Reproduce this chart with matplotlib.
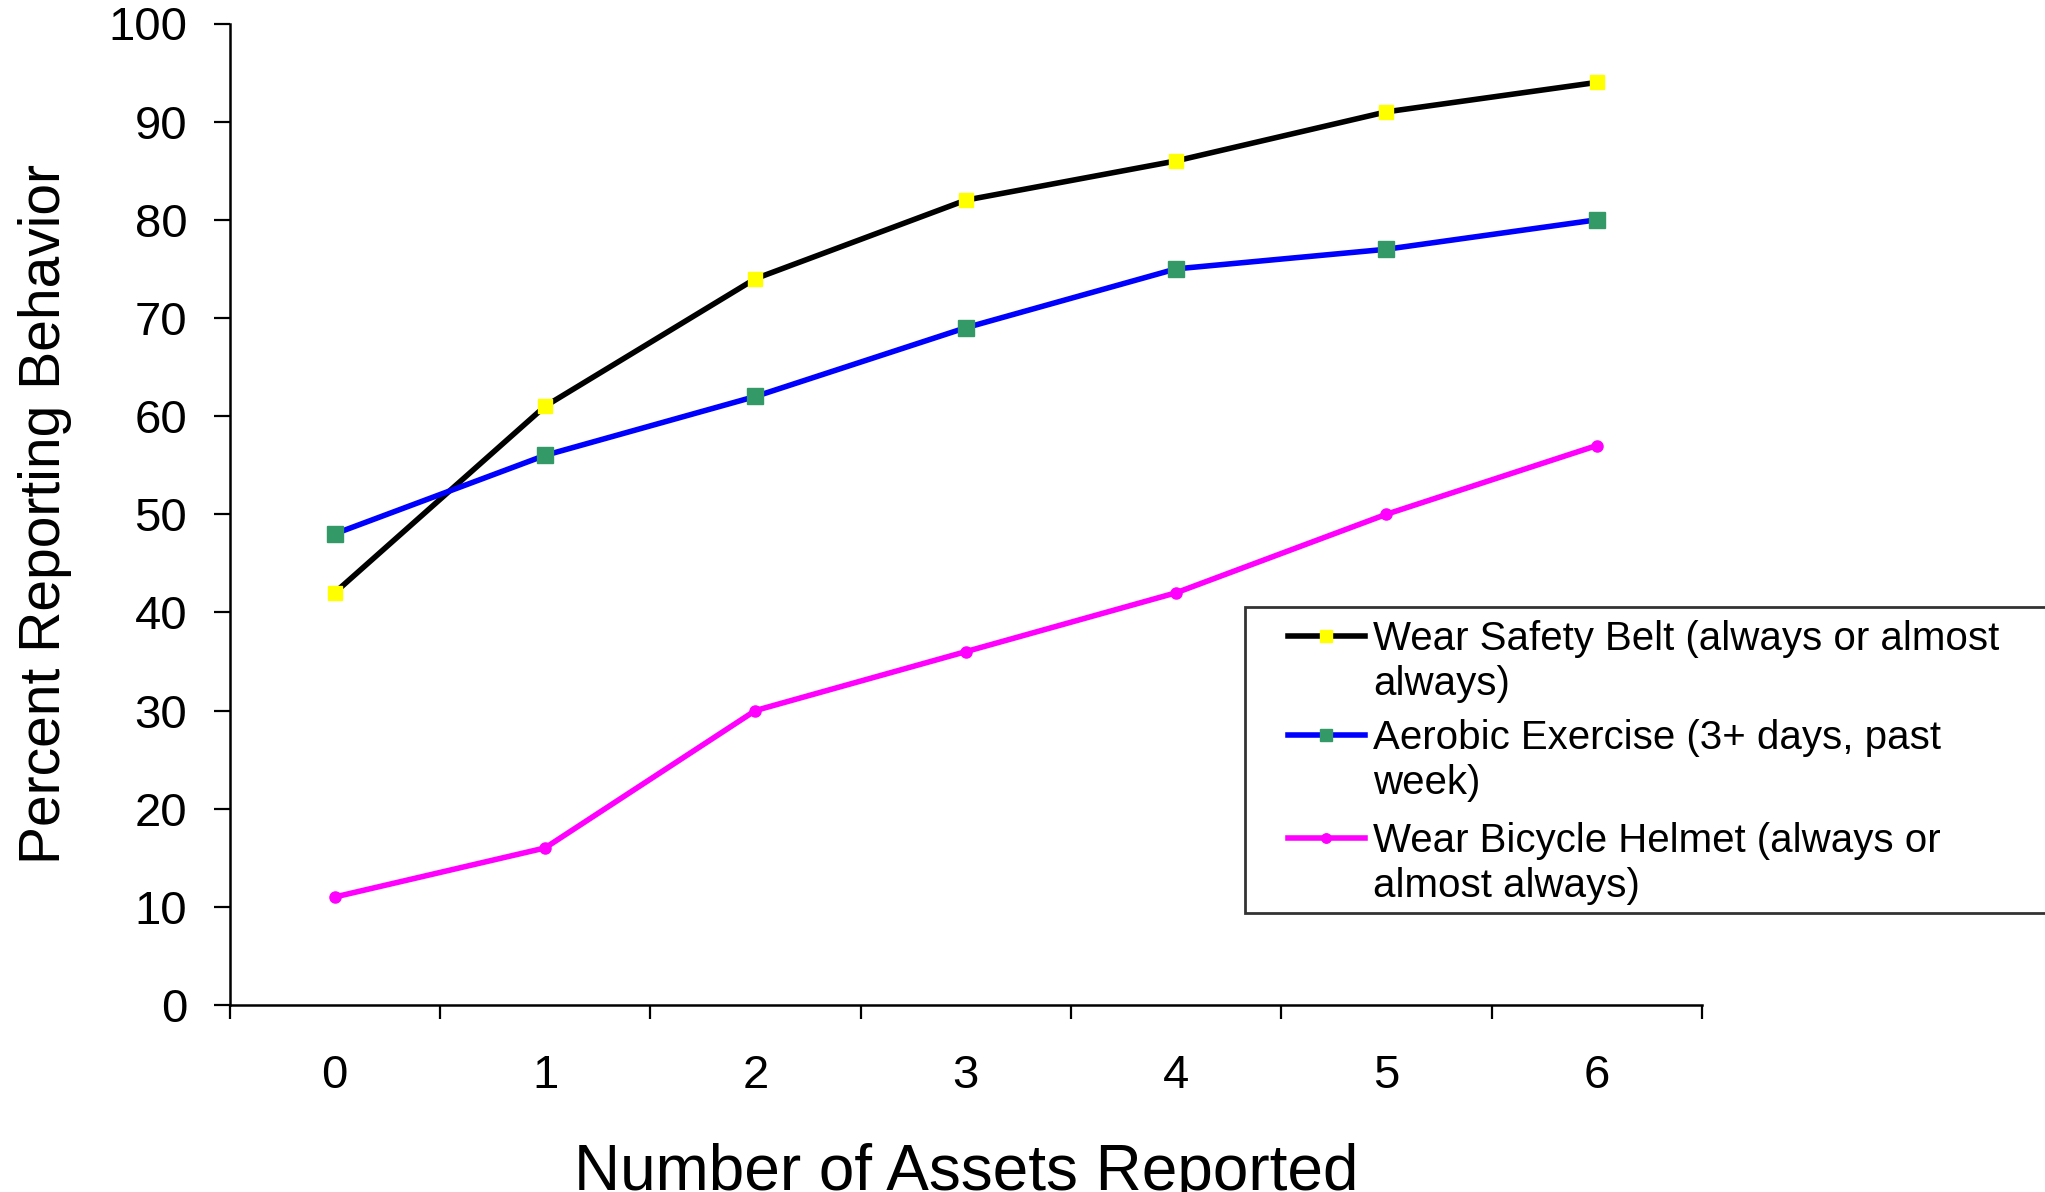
import matplotlib
matplotlib.use("Agg")
import matplotlib.pyplot as plt
from matplotlib.lines import Line2D
from matplotlib.patches import Rectangle

plt.rcParams["font.family"] = ["Liberation Sans", "DejaVu Sans"]

# data
assets = [0, 1, 2, 3, 4, 5, 6]
safety_belt = [42, 61, 74, 82, 86, 91, 94]
aerobic = [48, 56, 62, 69, 75, 77, 80]
bike_helmet = [11, 16, 30, 36, 42, 50, 57]

labels = [
    "Wear Safety Belt (always or almost\nalways)",
    "Aerobic Exercise (3+ days, past\nweek)",
    "Wear Bicycle Helmet (always or\nalmost always)",
]

W, H = 2045, 1192
fig = plt.figure(figsize=(W / 100, H / 100), dpi=100)

# axes box in pixels: left 229.5, right 1702, top 23.5, bottom 1005
ax = fig.add_axes([229.5 / W, (H - 1005) / H, (1702 - 229.5) / W, (1005 - 23.5) / H])

styles = [
    dict(color="#000000", marker="s", mfc="#FFFF00", mec="#FFFF00", ms=10),
    dict(color="#0000FF", marker="s", mfc="#339966", mec="#339966", ms=11),
    dict(color="#FF00FF", marker="o", mfc="#FF00FF", mec="#FF00FF", ms=8),
]
series = [safety_belt, aerobic, bike_helmet]

for vals, st in zip(series, styles):
    ax.plot(assets, vals, lw=4, clip_on=False, **st)

ax.set_xlim(-0.5, 6.5)
ax.set_ylim(0, 100)

for side in ("top", "right"):
    ax.spines[side].set_visible(False)
for side in ("left", "bottom"):
    ax.spines[side].set_linewidth(1.8)

ax.set_yticks(range(0, 101, 10))
ax.tick_params(axis="y", direction="out", length=11.5, width=1.6,
               labelsize=34, pad=19)

# category axis: tick marks between categories, labels at the centres
ax.set_xticks([a - 0.5 for a in assets] + [assets[-1] + 0.5])
ax.set_xticklabels([])
ax.set_xticks(assets, minor=True)
ax.set_xticklabels([str(a) for a in assets], minor=True)
ax.tick_params(axis="x", which="major", direction="out", length=10, width=1.6)
ax.tick_params(axis="x", which="minor", length=0, labelsize=34, pad=35)

ax.set_ylabel("Percent Reporting Behavior", fontsize=41)
ax.yaxis.set_label_coords((72 - 229.5) / 1472.5, 0.5)

ax.set_xlabel("Number of Assets Reported", fontsize=46)
ax.xaxis.set_label_coords(0.5, (1005 - 1190) / 981.5)
ax.xaxis.label.set_va("baseline")

# legend box, running off the right edge like the original
fig.patches.append(Rectangle((1245 / W, (H - 913) / H), (2080 - 1245) / W, (913 - 607) / H,
                             transform=fig.transFigure, facecolor="white",
                             edgecolor="#333333", lw=2, zorder=5))

handle_y = [636, 735, 838]
text_top = [620, 719, 822]
for lab, st, hy, ty in zip(labels, styles, handle_y, text_top):
    fig.lines.append(Line2D([1288 / W, 1365 / W], [(H - hy) / H] * 2,
                            transform=fig.transFigure, lw=4,
                            color=st["color"], zorder=6))
    fig.lines.append(Line2D([1326 / W], [(H - hy) / H], transform=fig.transFigure,
                            ls="none", marker=st["marker"], mfc=st["mfc"],
                            mec=st["mec"], ms=st["ms"] * 0.85, zorder=7))
    fig.text(1373 / W, (H - ty) / H, lab, fontsize=29, va="top", ha="left",
             linespacing=1.24, zorder=8)

fig.savefig("out.png", dpi=100)
